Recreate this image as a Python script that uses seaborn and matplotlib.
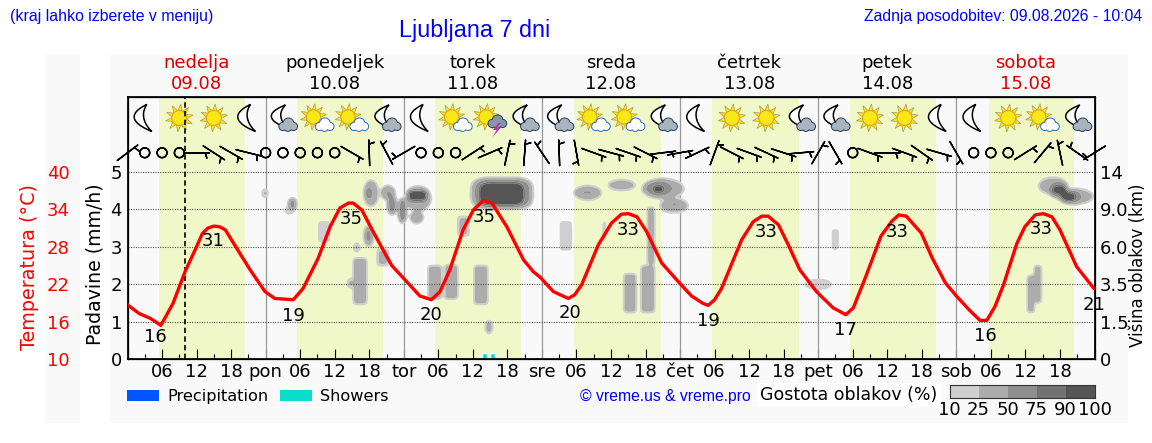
import numpy as np
import matplotlib
matplotlib.use("Agg")
import matplotlib.pyplot as plt
from matplotlib.patches import Polygon, Rectangle, Patch, Ellipse
from matplotlib.colors import ListedColormap
import seaborn as sns

W, H = 1152, 443

# ---------- data ----------
temp_hours = [0, 2, 4, 5.8, 7.9, 10, 12, 13, 14, 15, 16, 17, 18, 21.3, 23.9, 25.6, 28.8, 30.5, 33.1, 35.2, 36.9, 38.4,
              39.2, 40.7, 42.4, 44.4, 45.9, 48.5, 50.8, 52.8, 54.3, 56, 58.3, 60.1, 61.8, 63.3, 65.9, 68.8, 70.5, 71.7,
              74, 76.6, 77.7, 78.9, 81.8, 84.1, 85.8, 87, 88.5, 90.2, 92.8, 95.4, 98, 100, 100.9, 102, 103.2, 106.7,
              108.7, 110.2, 111.3, 113.1, 114.8, 116.8, 119.7, 122.6, 124.8, 126.1, 128.3, 130.9, 132.8, 134, 135.3,
              137.9, 139.8, 142.1, 144, 146.2, 148.1, 149.3, 150.7, 152.2, 154.5, 155.9, 157.7, 159.1, 160.6, 162,
              164.9, 167.9]
temp_values = [18.7, 17.3, 16.5, 15.4, 18.9, 24.0, 28.0, 30.1, 31.0, 31.3, 31.2, 30.7, 29.2, 24.3, 20.8, 19.7, 19.5,
               21.3, 26.1, 31.2, 34.2, 35, 35, 33.9, 30.9, 27.5, 25, 22.4, 20.1, 19.5, 20.8, 24.3, 30.7, 33.9, 35.4,
               35, 31.2, 25.9, 24, 23.1, 20.8, 19.7, 20.3, 21.9, 28.3, 31.8, 33.2, 33.3, 32.8, 30.4, 25.4, 22.7, 20.1,
               18.9, 18.6, 19.5, 21.3, 29.1, 32, 32.9, 32.9, 31.5, 28.3, 24.3, 20.8, 18.2, 17.1, 18.2, 23.3, 29.7,
               32.1, 33.1, 32.9, 30.2, 26.2, 22.2, 20.1, 17.9, 16.2, 16.2, 18.4, 21.9, 28.5, 31.2, 33.1, 33.3, 32.8,
               30.7, 24.8, 21.3]
label_hours = [4.8, 14.9, 28.8, 38.8, 52.7, 61.9, 76.9, 86.9, 100.9, 110.9, 124.8, 133.8, 149, 158.8, 167.9]
label_levels = [0.59, 3.15, 1.14, 3.74, 1.17, 3.80, 1.23, 3.45, 1.02, 3.40, 0.78, 3.40, 0.61, 3.48, 1.45]
label_temps = [16, 31, 19, 35, 20, 35, 20, 33, 19, 33, 17, 33, 16, 33, 21]

day_names = ["nedelja", "ponedeljek", "torek", "sreda", "četrtek", "petek", "sobota"]
day_dates = ["09.08", "10.08", "11.08", "12.08", "13.08", "14.08", "15.08"]
day_short = ["", "pon", "tor", "sre", "čet", "pet", "sob", ""]
weekend_days = ["nedelja", "sobota"]

light_start = [5.4, 29.5, 53.5, 77.5, 101.5, 125.6, 149.6]
light_end = [20.5, 44.4, 68.4, 92.6, 116.6, 140.5, 164.4]
now_hour = 10.0

# icons every 3, 9, 15, 21 h: m moon, mc moon+cloud, s sun, sc sun+cloud, st sun+storm
icon_codes = ["m", "s", "s", "m",
              "mc", "sc", "sc", "mc",
              "m", "sc", "st", "mc",
              "mc", "sc", "sc", "mc",
              "m", "s", "s", "mc",
              "mc", "s", "s", "m",
              "m", "s", "sc", "mc"]

# wind every 3 h: direction (deg, from) and speed (0 = calm)
wind_dir = [53, 0, 0, 0, 90, 123, 120, 104, 0, 0, 0, 0, 0, 120, 358, 332, 240, 0, 0, 0, 57, 67, 12, 4, 326, 358, 170,
            110, 105, 109, 117, 83, 80, 65, 20, 117, 110, 115, 108, 85, 30, 150, 0, 110, 90, 110, 125, 106, 150, 0, 0,
            0, 58, 40, 348, 305, 238]
wind_speed = [5, 0, 0, 0, 5, 5, 5, 5, 0, 0, 0, 0, 0, 5, 5, 5, 5, 0, 0, 0, 5, 5, 5, 5, 5, 5, 5,
              5, 5, 5, 5, 5, 5, 5, 5, 5, 5, 5, 5, 5, 5, 5, 0, 5, 5, 5, 5, 5, 5, 0, 0,
              0, 5, 5, 5, 5, 5]

shower_hours = [61.6, 63.0]
shower_mm = [0.15, 0.15]

# cloud patches: hour from, hour to, level from, level to, density %, shape
cloud_h0 = [23.3, 27.9, 27.1, 32.9, 41.0, 41.5, 41.0, 41.5, 39.2, 43.2, 39.1, 38.1, 44.0, 45.1, 47.0, 48.2, 48.6, 49.1,
            51.5, 54.5, 57.2, 51.6, 52.1, 55.0, 60.1, 62.1, 29.7, 59.5, 60.2, 61.0,
            77.5, 78.6, 83.4, 84.7, 89.2, 89.9, 91.1, 92.4, 94.0, 74.9, 76.4, 82.3, 86.1, 89.1, 90.2, 116.8, 122.2,
            122.9, 117.4,
            158.2, 161.4, 160.0, 162.0, 160.5, 162.0, 157.4, 156.2]
cloud_h1 = [24.5, 29.4, 29.1, 35.5, 43.6, 42.4, 42.8, 42.2, 40.4, 45.6, 41.7, 39.2, 46.5, 46.8, 48.5, 52.8, 52.1, 51.4,
            52.2, 55.3, 59.6, 52.0, 54.7, 57.6, 62.7, 63.5, 30.1, 70.6, 70.0, 69.0,
            82.4, 81.2, 88.3, 87.0, 96.8, 94.8, 93.4, 97.5, 96.0, 77.5, 77.0, 83.5, 88.6, 91.8, 91.8, 117.1, 123.8,
            123.5, 122.6,
            163.4, 167.9, 163.4, 165.8, 163.3, 164.9, 158.9, 157.7]
cloud_l0 = [4.30, 3.98, 3.85, 3.09, 4.07, 4.30, 3.00, 3.14, 2.85, 2.47, 1.44, 1.89, 4.25, 3.85, 3.63, 3.94, 4.21, 3.63,
            3.15, 2.96, 3.27, 2.51, 1.58, 1.58, 1.44, 0.67, 0.85, 4.00, 4.03, 4.08,
            4.25, 4.39, 4.50, 4.59, 4.27, 4.34, 4.43, 3.90, 4.07, 2.87, 3.07, 3.14, 1.22, 1.22, 2.51, 2.96, 2.89,
            3.00, 1.83,
            4.39, 4.13, 4.30, 4.16, 4.39, 4.19, 1.49, 1.22]
cloud_l1 = [4.56, 4.30, 4.07, 3.72, 4.79, 4.56, 3.58, 3.45, 3.11, 2.96, 2.72, 2.16, 4.63, 4.39, 4.30, 4.63, 4.52, 3.94,
            3.27, 3.47, 3.83, 2.69, 2.51, 2.53, 2.51, 1.04, 1.00, 4.86, 4.82, 4.74,
            4.63, 4.52, 4.79, 4.71, 4.83, 4.77, 4.65, 4.30, 4.21, 3.72, 3.56, 3.72, 2.29, 2.51, 4.07, 3.45, 3.49,
            3.45, 2.16,
            4.86, 4.56, 4.74, 4.52, 4.65, 4.47, 2.51, 2.25]
cloud_density = [30, 60, 18, 18, 40, 85, 40, 75, 30, 30, 40, 30, 50, 60, 65, 40, 100, 50,
                 20, 20, 30, 20, 40, 40, 40, 35, 20, 30, 60, 100,
                 40, 55, 35, 55, 35, 60, 100, 35, 55, 18, 40, 18, 40, 40, 40, 20, 20,
                 35, 18,
                 35, 35, 65, 65, 100, 100, 40, 40]
cloud_shape = ["e", "e", "e", "r", "e", "e", "e", "e", "e", "r", "r", "e", "e", "e", "e", "e", "o", "e",
               "e", "r", "r", "r", "r", "r", "r", "e", "r", "o", "o", "o",
               "e", "e", "e", "e", "e", "e", "e", "e", "e", "r", "r", "r", "r", "r", "r", "r", "r",
               "r", "e",
               "e", "e", "e", "e", "e", "e", "r", "r"]

density_levels = [10, 25, 50, 75, 90, 100]
density_colors = ["#cfcfcf", "#acacac", "#8f8f8f", "#737373", "#555555"]
precip_ticks = [0, 1, 2, 3, 4, 5]
temp_ticks = [10, 16, 22, 28, 34, 40]
height_ticks = ["0", "1.5", "3.5", "6.0", "9.0", "14"]

# ---------- style ----------
sns.set_theme(style="white")
plt.rcParams["font.family"] = "DejaVu Sans"
plt.rcParams["axes.edgecolor"] = "black"
FS = 13
BLUE = "#0000ff"
RED_DAY = "#dd0000"
BG = "#f9f9f9"

fig = plt.figure(figsize=(W / 100, H / 100), dpi=100, facecolor="white")


def fx(p):
    return p / W


def fy(p):
    return 1 - p / H


for x0, x1 in [(45, 80), (110, 1128)]:
    fig.add_artist(Rectangle((fx(x0), fy(423)), (x1 - x0) / W, 368 / H, transform=fig.transFigure,
                             facecolor=BG, edgecolor="none", zorder=-5))

ax = fig.add_axes([fx(127.5), fy(359), 967 / W, 262 / H])
ax.set_facecolor(BG)
ax.set_xlim(0, 168)
ax.set_ylim(0, 7)
PX = 168 / 967
PY = 7 / 262

for a, b in zip(light_start, light_end):
    ax.axvspan(a, b, color="#f0f7c8", lw=0, zorder=0)
for d in range(1, 7):
    ax.axvline(d * 24, color="#999999", lw=0.9, zorder=1)

# clouds
grid_h = np.arange(0, 168.05, 0.1)
grid_l = np.arange(0, 7.01, 0.02)
HH, LL = np.meshgrid(grid_h, grid_l)
field = np.zeros_like(HH)
for h0, h1, l0, l1, d, s in zip(cloud_h0, cloud_h1, cloud_l0, cloud_l1, cloud_density, cloud_shape):
    h0b, h1b, l0b, l1b = h0 + 0.2, h1 - 0.2, l0 + 0.03, l1 - 0.03
    if s == "r":
        m = (HH >= h0b) & (HH <= h1b) & (LL >= l0b) & (LL <= l1b)
    else:
        p = 2 if s == "e" else 4
        m = (np.abs((HH - (h0 + h1) / 2) / max((h1 - h0) / 2, .1)) ** p
             + np.abs((LL - (l0 + l1) / 2) / max((l1 - l0) / 2, .02)) ** p) <= 0.95
    field = np.where(m, np.maximum(field, d), field)


def blur(arr, sigma, axis):
    n = int(3 * sigma) + 1
    k = np.exp(-0.5 * (np.arange(-n, n + 1) / sigma) ** 2)
    k /= k.sum()
    return np.apply_along_axis(lambda v: np.convolve(v, k, mode="same"), axis, arr)


field = blur(blur(field, 3.0, 1), 2.5, 0)
ax.contourf(HH, LL, field, levels=[10, 25, 50, 75, 90, 101], colors=density_colors, zorder=2, antialiased=True)

# grid
for v in precip_ticks[1:]:
    ax.axhline(v, color="#555555", lw=0.8, ls=(0, (1, 1.2)), zorder=3)

ax.bar(shower_hours, shower_mm, width=0.85, color="#0adccc", align="edge", zorder=4)

# wind
rad = np.deg2rad(wind_dir)
spd = np.array(wind_speed, dtype=float)
wind_hours = np.arange(len(wind_dir)) * 3
ax.barbs(wind_hours, np.full(len(wind_dir), 5.51), -spd * np.sin(rad), -spd * np.cos(rad),
         length=6.1, pivot="middle", linewidth=1.05, barbcolor="black", flagcolor="black",
         sizes=dict(emptybarb=0.19, spacing=0.11, height=0.42), clip_on=False, zorder=8)


# icons
def pts(cx, cy, verts):
    return [(cx + dx * PX, cy + dy * PY) for dx, dy in verts]


def disc(cx, cy, dx, dy, r, **kw):
    ax.add_patch(Ellipse((cx + dx * PX, cy + dy * PY), 2 * r * PX, 2 * r * PY, **kw))


def moon(cx, cy, small=False):
    s = np.linspace(-1, 1, 30)
    if small:
        top, bot, bo, bi, sh = (4, 13), (8, -11), 16, 6.5, -1.5
    else:
        top, bot, bo, bi, sh = (2, 13.5), (7, -13.5), 15, 5.5, 0
    tx = top[0] + (bot[0] - top[0]) * (1 - s) / 2 + sh
    ty = bot[1] + (top[1] - bot[1]) * (s + 1) / 2
    outer = [(x - bo * (1 - q ** 2), y) for x, y, q in zip(tx, ty, s)]
    inner = [(x - bi * (1 - q ** 2), y) for x, y, q in zip(tx[::-1], ty[::-1], s[::-1])]
    ax.add_patch(Polygon(pts(cx, cy, outer + inner), closed=True, facecolor="white", edgecolor="black",
                         lw=1.1, zorder=5))


def sun(cx, cy, dx=0, dy=0, k=1.0):
    for ang in np.arange(0, 360, 36) + 12:
        a = np.deg2rad(ang)
        u = np.array([np.cos(a), np.sin(a)])
        n = np.array([-u[1], u[0]])
        tri = [tuple(u * 7 * k - n * 2.2 * k + [dx, dy]), tuple(u * 14 * k + [dx, dy]), tuple(u * 7 * k + n * 2.2 * k + [dx, dy])]
        ax.add_patch(Polygon(pts(cx, cy, tri), closed=True, facecolor="#f7e916", edgecolor="#a89a50", lw=0.5, zorder=5))
    disc(cx, cy, dx, dy, 7.5 * k, facecolor="#f7e916", edgecolor="#f0a020", lw=0.8, zorder=5.1)


def cloud(cx, cy, dx, dy, fill, edge):
    blobs = [(-5, -1.5, 3.6), (0.5, 1.5, 5), (5.5, -1.5, 3.6), (0, -2.5, 3.5)]
    for bx, by, r in blobs:
        disc(cx, cy, dx + bx, dy + by, r, facecolor=fill, edgecolor=edge, lw=1.4, zorder=5.3)
    for bx, by, r in blobs:
        disc(cx, cy, dx + bx, dy + by, r, facecolor=fill, edgecolor="none", zorder=5.4)


icon_hours = np.arange(len(icon_codes)) * 6 + 3
icon_y = 6.44
for hr, code in zip(icon_hours, icon_codes):
    if code == "m":
        moon(hr, icon_y)
    elif code == "mc":
        moon(hr, icon_y, small=True)
        cloud(hr, icon_y, 5, -7, "#a9b4bd", "#1f3f60")
    elif code == "s":
        sun(hr, icon_y)
    elif code == "sc":
        sun(hr, icon_y, -4, 1, 0.95)
        cloud(hr, icon_y, 7, -7, "white", "#2a6fb5")
    elif code == "st":
        sun(hr, icon_y, -4, 1, 0.95)
        cloud(hr, icon_y, 7, -4, "#8a96a3", "#1f3f80")
        ax.add_patch(Polygon(pts(hr, icon_y, [(8, -5), (3, -12), (6.5, -12), (2.5, -19), (11, -9.5), (7, -9.5), (11, -5)]),
                             closed=True, facecolor="#b03cb0", edgecolor="none", zorder=5.6))

ax.axvline(now_hour, color="black", lw=1.2, ls=(0, (3.2, 2)), zorder=7)

# axis furniture
ax.set_xticks(np.arange(0, 169, 6))
ax.set_xticks(np.arange(3, 169, 6), minor=True)
tick_names = []
for t in np.arange(0, 169, 6):
    tick_names.append(day_short[t // 24] if t % 24 == 0 else f"{t % 24:02d}")
ax.set_xticklabels(tick_names)
ax.tick_params(axis="x", which="major", direction="in", length=7, width=0.8, labelsize=FS, pad=3, bottom=True,
               color="black", labelcolor="black")
ax.tick_params(axis="x", which="minor", direction="in", length=3.6, width=0.8, bottom=True, color="black")
ax.set_yticks(precip_ticks)
ax.tick_params(axis="y", left=False, length=0, labelsize=FS, pad=4, labelcolor="black")
ax.set_ylabel("")
for sp in ax.spines.values():
    sp.set_color("black")
    sp.set_linewidth(0.9)
    sp.set_visible(True)

# right axis
ax_r = ax.twinx()
ax_r.set_ylim(0, 7)
ax_r.set_yticks(precip_ticks)
ax_r.set_yticklabels(height_ticks)
ax_r.tick_params(axis="y", right=False, length=0, labelsize=FS, pad=3.6, labelcolor="black")
ax_r.grid(False)
ax_r.patch.set_visible(False)

# temperature axis and line
ax_t = ax.twinx()
ax_t.yaxis.tick_left()
ax_t.set_ylim(10, 10 + 7 * 6)
ax_t.set_yticks(temp_ticks)
ax_t.tick_params(axis="y", left=False, right=False, length=0, labelsize=FS, labelcolor="#ff0000", pad=41.5)
ax_t.grid(False)
ax_t.patch.set_visible(False)
for sp in ax_t.spines.values():
    sp.set_visible(False)
sns.lineplot(x=temp_hours, y=temp_values, ax=ax_t, color="#ff0000", linewidth=2.4, estimator=None, sort=False,
             legend=False, solid_joinstyle="round")
ax_t.set_ylabel("")
ax_t.set_xlim(0, 168)
for hr, lv, t in zip(label_hours, label_levels, label_temps):
    ax_t.text(hr, 10 + lv * 6, str(t), ha="center", va="center", fontsize=FS, color="black", clip_on=False, zorder=10)

# day headers
for i, (nm, dt) in enumerate(zip(day_names, day_dates)):
    c = RED_DAY if nm in weekend_days else "black"
    xd = fx(127.5 + (i + 0.5) * 967 / 7)
    fig.text(xd, fy(63), nm, ha="center", va="center", fontsize=FS, color=c)
    fig.text(xd, fy(84), dt, ha="center", va="center", fontsize=FS, color=c)

# axis titles
fig.text(fx(30), fy(267), "Temperatura (°C)", rotation=90, ha="center", va="center", fontsize=13.8, color="#ff0000")
fig.text(fx(95), fy(264), "Padavine (mm/h)", rotation=90, ha="center", va="center", fontsize=13.6, color="black")
fig.text(fx(1138), fy(265), "Višina oblakov (km)", rotation=90, ha="center", va="center", fontsize=12, color="black")

# header texts
LS = "Liberation Sans"
fig.text(fx(10), fy(16), "(kraj lahko izberete v meniju)", family=LS, fontsize=11.4, color=BLUE, ha="left", va="center")
fig.text(fx(399), fy(30), "Ljubljana 7 dni", family=LS, fontsize=16.8, color=BLUE, ha="left", va="center")
fig.text(fx(1142), fy(16), "Zadnja posodobitev: 09.08.2026 - 10:04", family=LS, fontsize=11.35, color=BLUE, ha="right", va="center")
fig.text(fx(580), fy(396), "© vreme.us & vreme.pro", family=LS, fontsize=11.3, color=BLUE, ha="left", va="center")
fig.text(fx(760), fy(395), "Gostota oblakov (%)", fontsize=12.5, color="black", ha="left", va="center",
         bbox=dict(facecolor="white", edgecolor="none", pad=2.5))

# legend
handles = [Patch(facecolor="#0055ff", edgecolor="none", label="Precipitation"),
           Patch(facecolor="#0adccc", edgecolor="none", label="Showers")]
leg = fig.legend(handles=handles, loc="center left", bbox_to_anchor=(fx(127), fy(396.5)), ncol=2, frameon=False, fontsize=11.6,
                 handlelength=2.0, handleheight=0.68, handletextpad=0.5, columnspacing=0.7, borderpad=0, borderaxespad=0)
for t in leg.get_texts():
    t.set_color("black")

# density scale
cax = fig.add_axes([fx(949.5), fy(398), 145 / W, 13 / H])
cax.pcolormesh(np.arange(6), [0, 1], np.arange(5).reshape(1, 5), cmap=ListedColormap(density_colors), shading="flat")
cax.set_xticks(np.arange(6))
cax.set_xticklabels([str(v) for v in density_levels])
cax.set_yticks([])
cax.tick_params(axis="x", length=0, labelsize=FS, pad=2, bottom=False, labelcolor="black")
for sp in cax.spines.values():
    sp.set_visible(True)
    sp.set_color("#333333")
    sp.set_linewidth(0.8)

fig.savefig("out.png", dpi=100, facecolor="white")
